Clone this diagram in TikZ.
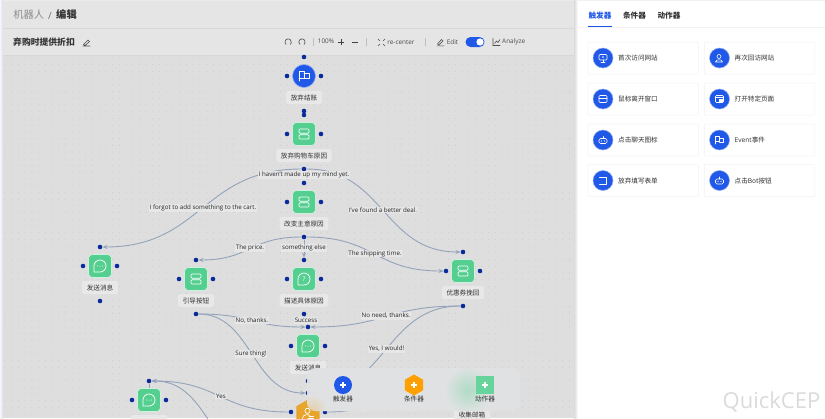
\documentclass[tikz,border=0pt]{standalone}
\usepackage{fontspec}
\setmainfont{Open Sans}
\newfontfamily\cjk{Noto Sans CJK SC}
\usetikzlibrary{shapes.geometric,arrows.meta}
\pgfdeclarelayer{deep}\pgfdeclarelayer{edges}\pgfdeclarelayer{over}\pgfdeclarelayer{top}
\pgfsetlayers{deep,edges,main,over,top}
\definecolor{canvasbg}{HTML}{DEDEDE}
\definecolor{headbg}{HTML}{E5E5E5}
\definecolor{headline}{HTML}{D8D8D8}
\definecolor{dotc}{HTML}{C6C6C6}
\definecolor{brand}{HTML}{2058E8}
\definecolor{portc}{HTML}{0A2A9A}
\definecolor{greenc}{HTML}{55CF90}
\definecolor{edgec}{HTML}{94A3BA}
\definecolor{labbg}{HTML}{E8E8E8}
\definecolor{textc}{HTML}{333333}
\definecolor{orangec}{HTML}{E8A52C}
\definecolor{panelc}{HTML}{E1E2E3}
\tikzset{
 x=1pt,y=-1pt,
 greenbox/.style={draw=white!70!greenc,line width=.6,fill=greenc,rounded corners=4,minimum size=23,inner sep=0},
 port/.style={circle,fill=portc,minimum size=4.6,inner sep=0},
 flabel/.style={fill=labbg,rounded corners=1.5,font=\cjk\fontsize{6.6}{8}\selectfont,text=textc,inner xsep=4.6,inner ysep=2.4,minimum height=13},
 elabel/.style={fill=labbg,fill opacity=.9,text opacity=1,font=\fontsize{6.2}{8}\selectfont,text=black!85,inner sep=.8},
 edge/.style={draw=edgec,line width=.9,-{Stealth[length=5,width=4,fill=edgec!85!black]}},
 plainedge/.style={draw=edgec,line width=.9},
 ico/.style={draw=white,line width=.7,line join=round,line cap=round},
 tool/.style={draw=black!70,line width=.6,line cap=round},
 toolt/.style={font=\fontsize{6.4}{8}\selectfont,text=black!70,inner sep=0},
 cardbox/.style={draw=black!5,fill=white,line width=.5,minimum width=110.5,minimum height=32,rounded corners=1,inner sep=0},
 cardcirc/.style={circle,fill=brand,draw=brand!50!white,line width=.5,minimum size=20,inner sep=0},
 cardtext/.style={font=\cjk\fontsize{6.6}{8}\selectfont,text=textc,anchor=west,inner sep=0},
 tabt/.style={font=\cjk\bfseries\fontsize{7.6}{9}\selectfont,inner sep=0},
 srv/.pic={\draw[ico,rounded corners=1] (-5,-5) rectangle (5,-.8);\draw[ico,rounded corners=1] (-5,.8) rectangle (5,5);},
 chat/.pic={\draw[ico] (-6,0) arc (180:450:6) -- (-6,6) -- cycle;
   \fill[white] (-2.4,0) circle (.5) (0,0) circle (.5) (2.4,0) circle (.5);},
 ask/.pic={\draw[ico] (-6,0) arc (180:450:6) -- (-6,6) -- cycle;
   \node[font=\fontsize{6.5}{7}\selectfont,text=white,inner sep=0] at (0,0) {?};},
 flagi/.pic={\draw[ico] (-5,5) -- (-5,-4.5) -- (0,-4.5) -- (0,2) -- (-5,2);\draw[ico] (0,-2.5) -- (5,-2.5) -- (5,2.5) -- (0,2.5);},
 flagt/.pic={\draw[ico,line width=.6] (-4,4) -- (-4,-3.5) -- (0,-3.5) -- (0,1.5) -- (-4,1.5);\draw[ico,line width=.6] (0,-2) -- (4,-2) -- (4,2) -- (0,2);},
 mon/.pic={\draw[ico,line width=.6,rounded corners=1] (-4,-3.5) rectangle (4,2);\draw[ico,line width=.6] (0,2) -- (0,4) (-2,4) -- (2,4);\fill[white] (0,-1) circle (.8);},
 usr/.pic={\draw[ico,line width=.6] (-.5,-1.5) circle (2);\draw[ico,line width=.6] (-4,4) .. controls (-4,1) and (3,1) .. (3,4) -- cycle;},
 win/.pic={\draw[ico,line width=.6,rounded corners=1] (-4,-3.5) rectangle (4,3.5);\draw[ico,line width=.6] (-4,-.5) -- (4,-.5);},
 win2/.pic={\draw[ico,line width=.6,rounded corners=1] (-4,-3.5) rectangle (4,3.5);\draw[ico,line width=.6] (-4,-1.5) -- (4,-1.5);\fill[white] (-1,0) rectangle (3,2.5);},
 bot/.pic={\draw[ico,line width=.6,rounded corners=1.5] (-4,-1.5) rectangle (4,3.5);\draw[ico,line width=.6] (0,-1.5) -- (0,-3.5);\fill[white] (-1.5,1) circle (.6) (1.5,1) circle (.6);},
 door/.pic={\draw[ico,line width=.7] (-3.5,-3.5) -- (3.5,-3.5) -- (3.5,3.5) -- (-3.5,3.5);},
 plus/.pic={\draw[white,line width=1.2] (-3,0) -- (3,0) (0,-3) -- (0,3);},
 person/.pic={\draw[ico] (-.5,-2.2) circle (2.6);\draw[ico] (-5.5,5.5) .. controls (-5.5,1) and (1,1) .. (1.5,2.5);\draw[ico] (1,3) -- (5.5,3) (0,5.5) -- (5.5,5.5);},
}
% name, x, y, label, icon
\newcommand\portset[3]{%
 \node[port] (#1-t) at (#2,#3-19) {};
 \node[port] (#1-b) at (#2,#3+35) {};
 \node[port] (#1-l) at (#2-17,#3) {};
 \node[port] (#1-r) at (#2+17,#3) {};}
\newcommand\flownode[5]{%
 \node[greenbox] (#1) at (#2,#3) {};
 \pic at (#1) {#5};
 \node[flabel] (#1-lab) at (#2,#3+21.5) {#4};
 \portset{#1}{#2}{#3}}
\newcommand\card[5]{% name x y text icon
 \node[cardbox] (#1) at (#2,#3) {};
 \node[cardcirc] (#1-c) at (#2-40,#3) {};
 \pic at (#1-c) {#5};
 \node[cardtext] (#1-t) at (#2-25,#3) {#4};}
\begin{document}
\begin{tikzpicture}
\useasboundingbox (0,0) rectangle (825,418);
\begin{pgfonlayer}{deep}
\fill[canvasbg] (0,0) rectangle (825,418);
\foreach \i in {0,...,85}{\foreach \j in {0,...,54}{
  \fill[dotc] ({5+\i*6.72},{58+\j*6.72}) circle (.42);}}
\fill[headbg] (0,0) rectangle (577,55);
\draw[headline,line width=.6] (3,28.5) -- (577,28.5);
\draw[headline,line width=.6] (3,55) -- (577,55);
\fill[black!8] (0,0) rectangle (577,1);
\shade[left color=blue!4!white,right color=canvasbg] (0,0) rectangle (3,418);
\end{pgfonlayer}

% header
\node[font=\cjk\fontsize{10.3}{12}\selectfont,text=black!45,inner sep=0] (crumb) at (28.7,15) {机器人};
\node[font=\fontsize{10}{12}\selectfont,text=black!55,inner sep=0] (slash) at (50,15.5) {/};
\node[font=\cjk\bfseries\fontsize{10.3}{12}\selectfont,text=black!80,inner sep=0] (editt) at (66.5,15) {编辑};
\node[font=\cjk\bfseries\fontsize{8.8}{10}\selectfont,text=black!80,inner sep=0] (title) at (44,42) {弃购时提供折扣};
\draw[tool] (83,46) -- (90,46) (83.5,44.5) -- (88,40) -- (89.5,41.5) -- (85,45.5) -- cycle;
% toolbar
\draw[tool] (288.2,42) ++(130:3.2) arc (130:410:3.2);
\draw[tool] (302,42) ++(130:3.2) arc (130:410:3.2);
\draw[black!25,line width=.5] (313.5,38) -- (313.5,46) (366.5,38) -- (366.5,46) (425.5,38) -- (425.5,46);
\node[toolt] (zoomv) at (326,41.3) {100\%};
\draw[black!75,line width=.8] (338,42) -- (344,42) (341,39) -- (341,45) (352,42) -- (358,42);
\draw[tool] (378,39) -- (380,41) (385,39) -- (383,41) (378,46) -- (380,44) (385,46) -- (383,44);
\node[toolt] (recenter) at (401,42) {re-center};
\draw[tool] (437,45.8) -- (444,45.8) (437.5,44) -- (441.5,39.5) -- (443,41) -- (439,44.8) -- cycle;
\node[toolt] (editl) at (452.5,42) {Edit};
\fill[brand,rounded corners=5] (465.5,37) rectangle (484.5,47);
\fill[white] (480,42) circle (3.6);
\draw[tool] (493,38.5) -- (493,45.5) -- (500,45.5) (494.5,43.5) -- (496.5,41) -- (498,42.5) -- (500,39.5);
\node[toolt] (analyze) at (513.7,42) {Analyze};

% flow nodes
\node[circle,fill=brand,draw=brand!50!white,line width=.6,minimum size=23,inner sep=0] (start) at (304,76) {};
\pic at (start) {flagi};
\node[flabel] (start-lab) at (304,97.5) {放弃结账};
\portset{start}{304}{76}
\flownode{cart}{304}{134}{放弃购物车原因}{srv}
\flownode{change}{304}{202}{改变主意原因}{srv}
\flownode{msg}{100}{266}{发送消息}{chat}
\flownode{guide}{196}{279}{引导按钮}{srv}
\flownode{desc}{304}{279}{描述具体原因}{ask}
\flownode{coupon}{463}{271}{优惠券挽回}{srv}
\flownode{send}{308}{346}{发送消息}{chat}
\flownode{lower}{149}{400}{\phantom{发送消息}}{chat}
\flownode{email}{472}{393}{收集邮箱}{chat}
\node[regular polygon,regular polygon sides=6,shape border rotate=30,fill=orangec,minimum size=27,inner sep=0] (hexa) at (308,413) {};
\pic at (hexa) {person};
\portset{hexa}{308}{412}
\coordinate (offa) at (235,460);

\begin{pgfonlayer}{edges}
\draw[edge] (cart-b) .. controls +(-102,0) and +(102,0) .. (msg-t);
\draw[edge] (cart-b) .. controls +(80,0) and +(-80,0) .. (coupon-t);
\draw[edge] (change-b) .. controls +(-54,0) and +(54,0) .. (guide-t);
\draw[edge] (change-b) -- (desc-t);
\draw[edge] (change-b) .. controls +(72,0) and +(-72,0) .. (coupon-l);
\draw[edge] (guide-b) .. controls +(56,0) and +(-56,0) .. (send-t);
\draw[edge] (desc-b) -- (send-t);
\draw[edge] (coupon-b) .. controls +(-78,0) and +(78,0) .. (send-t);
\draw[edge] (guide-b) .. controls +(56,0) and +(-56,0) .. (hexa-t);
\draw[edge] (coupon-b) .. controls +(-78,0) and +(78,0) .. (hexa-t);
\draw[edge] (hexa-l) .. controls +(-71,0) and +(71,0) .. (lower-t);
\draw[edge] (offa) .. controls +(-30,-40) and +(45,0) .. (lower-t);
\draw[edge] (hexa-r) .. controls +(70,0) and +(-70,0) .. (email-t);
\draw[plainedge] (lower-t) -- (lower);
\end{pgfonlayer}

% edge labels
\node[elabel] (la) at (203,208) {I forgot to add something to the cart.};
\node[elabel] (lb) at (304,175) {I haven't made up my mind yet.};
\node[elabel] (lc) at (383,210) {I've found a better deal.};
\node[elabel] (ld) at (250,248) {The price.};
\node[elabel] (le) at (304,248) {something else};
\node[elabel] (lf) at (375,253.5) {The shipping time.};
\node[elabel] (lg) at (252,320.5) {No, thanks.};
\node[elabel] (lh) at (306,320.5) {Success};
\node[elabel] (li) at (386,316) {No need, thanks.};
\node[elabel] (lj) at (251,354) {Sure thing!};
\node[elabel] (lk) at (386.5,349) {Yes, I would!};
\node[elabel] (ll) at (221,396) {Yes};

% floating palette
\begin{pgfonlayer}{over}
\fill[panelc,opacity=.96,rounded corners=9] (307,368) rectangle (520,411);
\begin{scope}
\clip[rounded corners=9] (307,368) rectangle (520,411);
\shade[inner color=greenc!35!panelc,outer color=panelc] (468,390) circle (24);
\shade[inner color=orangec!30!panelc,outer color=panelc] (312,410) circle (16);
\end{scope}
\node[circle,fill=brand,minimum size=18,inner sep=0] (ptrig) at (343,385) {};
\pic at (ptrig) {plus};
\node[font=\cjk\fontsize{6.6}{8}\selectfont,text=textc,inner sep=0] (ptrigl) at (343,398.5) {触发器};
\node[regular polygon,regular polygon sides=6,shape border rotate=30,fill=orange!75!yellow,minimum size=21,inner sep=0] (pcond) at (414,385) {};
\pic at (pcond) {plus};
\node[font=\cjk\fontsize{6.6}{8}\selectfont,text=textc,inner sep=0] (pcondl) at (414,399) {条件器};
\node[fill=greenc!90!white,minimum size=18,inner sep=0] (pact) at (485,385) {};
\pic at (pact) {plus};
\node[font=\cjk\fontsize{6.6}{8}\selectfont,text=textc,inner sep=0] (pactl) at (485,398.5) {动作器};
\end{pgfonlayer}

% right panel
\begin{pgfonlayer}{top}
\shade[left color=black!14,right color=white] (574,0) rectangle (578,418);
\fill[white] (577.5,1) rectangle (825,418);
\fill[black!6] (577.5,0) rectangle (825,1);
\draw[black!5,line width=.6] (577.5,27.5) -- (825,27.5);
\node[tabt,text=brand] (tab1) at (600,15.5) {触发器};
\node[tabt,text=textc] (tab2) at (634.5,15.5) {条件器};
\node[tabt,text=textc] (tab3) at (669,15.5) {动作器};
\draw[brand,line width=.9] (588,26.8) -- (612,26.8);
\card{c1}{643}{58}{首次访问网站}{mon}
\card{c2}{759.5}{58}{再次回访网站}{usr}
\card{c3}{643}{99}{鼠标离开窗口}{win}
\card{c4}{759.5}{99}{打开特定页面}{win2}
\card{c5}{643}{140}{点击聊天图标}{bot}
\card{c6}{759.5}{140}{{\fontspec{Open Sans}Event}事件}{flagt}
\card{c7}{643}{180.5}{放弃填写表单}{door}
\card{c8}{759.5}{180.5}{点击Bot按钮}{bot}
\node[font=\fontsize{22}{24}\selectfont,text=black!14,inner sep=0] (mark) at (771.5,402) {QuickCEP};
\end{pgfonlayer}
\end{tikzpicture}
\end{document}
